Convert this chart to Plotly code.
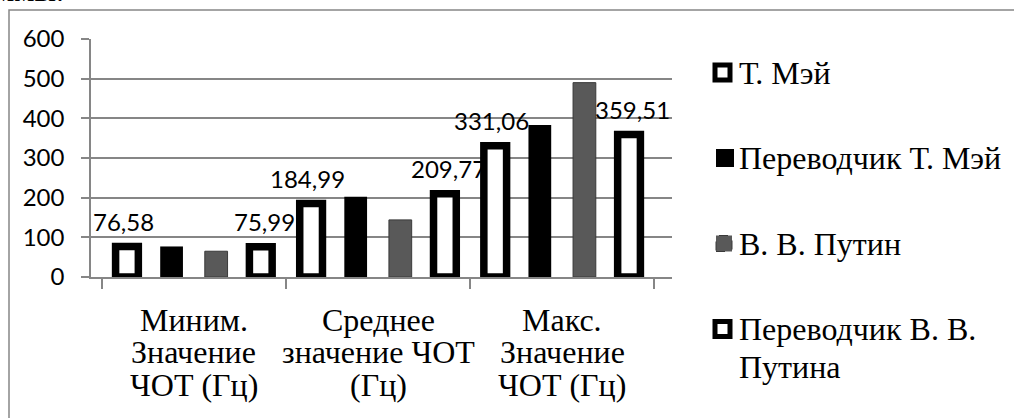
import plotly.graph_objects as go

# --- data -------------------------------------------------------------
categories = [
    "Миним.<br>Значение<br>ЧОТ (Гц)",
    "Среднее<br>значение ЧОТ<br>(Гц)",
    "Макс.<br>Значение<br>ЧОТ (Гц)",
]
series_names = ["Т. Мэй", "Переводчик Т. Мэй", "В. В. Путин", "Переводчик В. В.<br>Путина"]

may_values = [76.58, 184.99, 331.06]
may_translator_values = [77, 202, 383]
putin_values = [65, 144, 490]
putin_translator_values = [75.99, 209.77, 359.51]

y_ticks = [0, 100, 200, 300, 400, 500, 600]

all_series = [may_values, may_translator_values, putin_values, putin_translator_values]
labelled_series = [0, 3]

# --- layout geometry --------------------------------------------------
W, H = 1014, 418
ML, MR, MT, MB = 91, 342, 39, 141
PLOT_W = W - ML - MR
PLOT_H = H - MT - MB
BARGAP = 0.031
BARGROUPGAP = 0.49


def px_x(px):
    return (px - ML) / PLOT_W


def px_y(py):
    return (H - MB - py) / PLOT_H


GRID = "#868686"
SERIF = "Liberation Serif"
SANS = "Lato"

bar_styles = [
    dict(color="white", line=dict(color="black", width=7.5)),
    dict(color="black", line=dict(color="black", width=0)),
    dict(color="#595959", line=dict(color="#3a3a3a", width=1)),
    dict(color="white", line=dict(color="black", width=7.5)),
]

fig = go.Figure()
for name, values, style in zip(series_names, all_series, bar_styles):
    fig.add_trace(go.Bar(
        x=categories, y=values, name=name.replace("<br>", " "),
        marker=style, cliponaxis=False, showlegend=False,
        hoverinfo="skip",
    ))

annotations = []

# value labels above the outlined bars
cat_px = PLOT_W / len(categories)
slot_px = cat_px * (1 - BARGAP) / len(all_series)
for idx in labelled_series:
    for cat, val in zip(categories, all_series[idx]):
        annotations.append(dict(
            x=cat, y=val, xref="x", yref="y",
            xshift=(idx - (len(all_series) - 1) / 2) * slot_px, yshift=25,
            text=f"{val:.2f}".replace(".", ","), showarrow=False,
            font=dict(family=SANS, size=24, color="black"),
            xanchor="center", yanchor="middle",
        ))

# category labels, one annotation per line for tight line spacing
line_centers = [320, 352, 385]
for cat in categories:
    for line, cy in zip(cat.split("<br>"), line_centers):
        annotations.append(dict(
            x=cat, y=px_y(cy), xref="x", yref="paper",
            text=line, showarrow=False,
            font=dict(family=SERIF, size=32, color="black"),
            xanchor="center", yanchor="middle",
        ))

# legend built from swatches and text
shapes = []
legend_centers = [72.5, 158, 243.5, 329]
legend_text_x = 737
swatch_kinds = ["outline", "solid", "gray", "outline"]
for name, kind, cy in zip(series_names, swatch_kinds, legend_centers):
    if kind == "outline":
        half = 7.5
        shapes.append(dict(type="rect", xref="paper", yref="paper",
                           x0=px_x(722.5 - half), x1=px_x(722.5 + half),
                           y0=px_y(cy + half), y1=px_y(cy - half),
                           fillcolor="white", line=dict(color="black", width=5)))
    elif kind == "solid":
        half = 9
        shapes.append(dict(type="rect", xref="paper", yref="paper",
                           x0=px_x(725 - half), x1=px_x(725 + half),
                           y0=px_y(cy + half), y1=px_y(cy - half),
                           fillcolor="black", line=dict(width=0)))
    else:
        half = 8
        shapes.append(dict(type="rect", xref="paper", yref="paper",
                           x0=px_x(724 - half), x1=px_x(724 + half),
                           y0=px_y(cy + half), y1=px_y(cy - half),
                           fillcolor="#595959",
                           line=dict(color="#3a3a3a", width=1, dash="dash")))
    for k, line in enumerate(name.split("<br>")):
        annotations.append(dict(
            x=px_x(legend_text_x), y=px_y(cy + k * 37.5), xref="paper", yref="paper",
            text=line, showarrow=False,
            font=dict(family=SERIF, size=32, color="black"),
            xanchor="left", yanchor="middle",
        ))

# chart area border
shapes.append(dict(type="rect", xref="paper", yref="paper",
                   x0=px_x(9), x1=px_x(1030), y0=px_y(440), y1=px_y(10),
                   line=dict(color=GRID, width=1.5), fillcolor="rgba(0,0,0,0)",
                   layer="below"))

# tail of the document line above the chart
annotations.append(dict(
    x=px_x(66), y=px_y(10), xref="paper", yref="paper",
    text="диаграммы.", showarrow=False,
    font=dict(family=SERIF, size=32, color="black"),
    xanchor="right", yanchor="bottom",
))

fig.update_layout(
    width=W, height=H,
    margin=dict(l=ML, r=MR, t=MT, b=MB, pad=0),
    paper_bgcolor="white", plot_bgcolor="white",
    barmode="group", bargap=BARGAP, bargroupgap=BARGROUPGAP,
    showlegend=False,
    annotations=annotations, shapes=shapes,
    xaxis=dict(
        type="category", showticklabels=False,
        ticks="outside", tickson="boundaries", ticklen=10,
        tickcolor=GRID, tickwidth=1.5,
        showline=True, linecolor=GRID, linewidth=1.5,
        showgrid=False, zeroline=False, fixedrange=True,
    ),
    yaxis=dict(
        range=[0, 600], tickvals=y_ticks,
        ticks="outside", ticklen=8, tickcolor=GRID, tickwidth=1.5,
        ticklabelstandoff=12,
        tickfont=dict(family=SANS, size=24, color="black"),
        showline=True, linecolor=GRID, linewidth=1.5,
        showgrid=True, gridcolor=GRID, gridwidth=1.5,
        zeroline=False, fixedrange=True,
    ),
)

fig.write_html("out.html", config={"displayModeBar": False})
